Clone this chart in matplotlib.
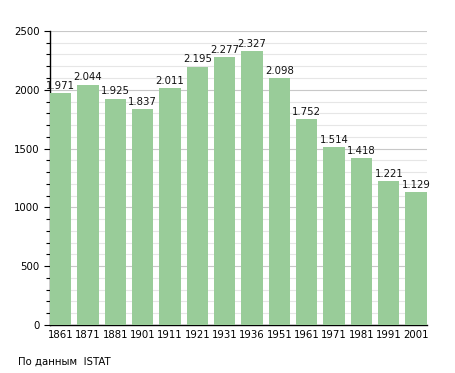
import numpy as np
import matplotlib.pyplot as plt
from matplotlib.ticker import MultipleLocator

years = ["1861", "1871", "1881", "1901", "1911", "1921", "1931",
         "1936", "1951", "1961", "1971", "1981", "1991", "2001"]
population = [1971, 2044, 1925, 1837, 2011, 2195, 2277,
              2327, 2098, 1752, 1514, 1418, 1221, 1129]

fig = plt.figure(figsize=(4.55, 3.73), dpi=100)
ax = fig.add_axes([0.110, 0.129, 0.828, 0.788])

x = np.arange(len(years))
ax.bar(x, population, width=0.78, color="#99cc99", zorder=3)

# value labels with dot as thousands separator
for xi, v in zip(x, population):
    ax.text(xi, v + 20, f"{v:,}".replace(",", "."), ha="center", va="bottom",
            fontsize=7.3, color="#111111", zorder=4)

ax.set_xticks(x)
ax.set_xticklabels(years, fontsize=7.3)
ax.set_xlim(-0.39, 13.39)
ax.set_ylim(0, 2500)
ax.yaxis.set_major_locator(MultipleLocator(500))
ax.yaxis.set_minor_locator(MultipleLocator(100))
ax.tick_params(axis="y", labelsize=7.3, length=4, width=0.8)
ax.tick_params(axis="y", which="minor", length=3, width=0.8)
ax.tick_params(axis="x", length=0, pad=4)

ax.grid(axis="y", which="minor", color="#e6e6e6", linewidth=0.8, zorder=0)
ax.grid(axis="y", which="major", color="#c8c8c8", linewidth=0.8, zorder=0)
for s in ["top", "right"]:
    ax.spines[s].set_visible(False)
ax.spines["left"].set_linewidth(1)
ax.spines["bottom"].set_linewidth(1)

fig.text(18 / 455, 1 - 362 / 373, "По данным  ISTAT", fontsize=7.3, va="center")

fig.savefig("out.png", dpi=100)
